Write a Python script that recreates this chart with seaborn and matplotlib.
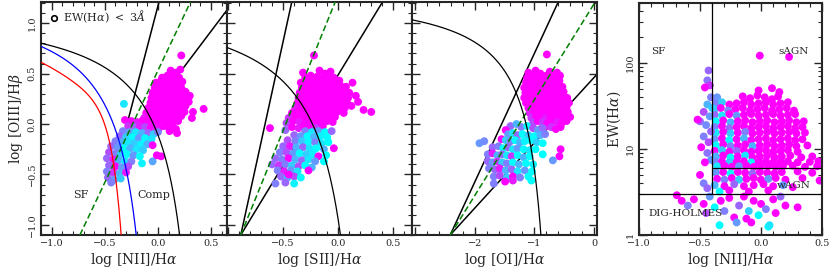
import numpy as np
import pandas as pd
import matplotlib
matplotlib.use("Agg")
import matplotlib.pyplot as plt
import seaborn as sns
from matplotlib.lines import Line2D
from matplotlib.ticker import MultipleLocator, LogLocator, NullFormatter

# ---------------- data ----------------
# colour value c: 0 = cyan ... 1 = magenta ("cool" colour map)

# [NII]/Ha vs [OIII]/Hb
nii_x = [
    0.12, 0.17, 0.21,
    0.04, 0.09, 0.15, 0.20,
    -0.02, 0.03, 0.08, 0.13, 0.18, 0.23,
    -0.03, 0.02, 0.07, 0.12, 0.17, 0.22,
    -0.05, 0.00, 0.05, 0.10, 0.15, 0.20, 0.26,
    -0.06, -0.01, 0.04, 0.09, 0.14, 0.19, 0.24,
    -0.07, -0.02, 0.03, 0.08, 0.13, 0.18, 0.23, 0.29,
    -0.09, -0.04, 0.01, 0.06, 0.11, 0.16, 0.21, 0.26,
    -0.11, -0.06, -0.01, 0.04, 0.09, 0.14, 0.19, 0.25,
    -0.13, -0.08, -0.03, 0.02, 0.07, 0.12, 0.17, 0.22,
    -0.16, -0.11, -0.06, -0.01, 0.04, 0.09, 0.14, 0.19,
    -0.14, -0.09, -0.04, 0.01, 0.06, 0.12, 0.17,
    0.22, 0.43, 0.32, 0.30, 0.11, 0.18, 0.03, 0.33,
    -0.32,
    -0.31, -0.25, -0.20, -0.15,
    -0.28, -0.22, -0.17, -0.12, -0.07, -0.02,
    -0.33, -0.27, -0.21, -0.15, -0.09, -0.04, 0.00,
    -0.36, -0.30, -0.24, -0.18, -0.12, -0.06,
    -0.40, -0.34, -0.28, -0.22, -0.16, -0.10, -0.05,
    -0.44, -0.38, -0.32, -0.26, -0.20, -0.14,
    -0.46, -0.40, -0.35, -0.29, -0.23, -0.17,
    -0.48, -0.42, -0.37, -0.31, -0.25, -0.15, -0.05,
    -0.46, -0.40, -0.34, -0.28,
    -0.48, -0.42, -0.36, -0.30,
    -0.47, -0.41, -0.35, -0.44,
    -0.01,
]
nii_y = [
    0.53, 0.51, 0.54,
    0.46, 0.48, 0.47, 0.46,
    0.41, 0.43, 0.42, 0.43, 0.41, 0.42,
    0.36, 0.38, 0.37, 0.36, 0.38, 0.36,
    0.31, 0.33, 0.32, 0.31, 0.33, 0.31, 0.32,
    0.26, 0.28, 0.27, 0.26, 0.28, 0.27, 0.26,
    0.21, 0.23, 0.22, 0.21, 0.23, 0.22, 0.21, 0.22,
    0.16, 0.18, 0.17, 0.16, 0.18, 0.17, 0.16, 0.18,
    0.11, 0.13, 0.12, 0.11, 0.13, 0.12, 0.11, 0.12,
    0.06, 0.08, 0.07, 0.06, 0.08, 0.07, 0.06, 0.08,
    0.01, 0.03, 0.02, 0.01, 0.03, 0.02, 0.01, 0.03,
    -0.04, -0.02, -0.03, -0.04, -0.02, -0.03, -0.05,
    0.68, 0.15, 0.06, 0.28, -0.07, -0.09, -0.32, 0.12,
    0.20,
    0.04, 0.03, 0.02, 0.03,
    -0.02, -0.03, -0.02, -0.03, -0.04, -0.05,
    -0.07, -0.08, -0.08, -0.09, -0.09, -0.10, -0.08,
    -0.12, -0.13, -0.13, -0.14, -0.14, -0.15,
    -0.17, -0.18, -0.18, -0.19, -0.20, -0.20, -0.21,
    -0.22, -0.23, -0.24, -0.24, -0.25, -0.26,
    -0.28, -0.29, -0.30, -0.30, -0.31, -0.32,
    -0.34, -0.35, -0.36, -0.37, -0.37, -0.39, -0.37,
    -0.41, -0.42, -0.43, -0.42,
    -0.47, -0.48, -0.49, -0.48,
    -0.53, -0.55, -0.54, -0.58,
    -0.31,
]
nii_c = [
    1, 1, 1,
    1, 1, 1, 1,
    1, 1, 1, 1, 1, 1,
    1, 1, 1, 1, 1, 1,
    1, 1, 1, 1, 1, 1, 1,
    1, 1, 1, 1, 1, 1, 1,
    1, 1, 1, 1, 1, 1, 1, 1,
    1, 1, 1, 1, 1, 1, 1, 1,
    1, 1, 1, 1, 1, 1, 1, 1,
    0.9, 1, 1, 1, 1, 1, 1, 1,
    0.85, 1, 1, 1, 1, 1, 1, 1,
    0.9, 1, 0.9, 1, 1, 1, 1,
    1, 1, 1, 1, 1, 1, 1, 1,
    0.1,
    1, 1, 0.9, 1,
    0.8, 0.6, 0.9, 0.7, 1, 0.9,
    0.5, 0.4, 0.1, 0.3, 0.6, 0.2, 0.5,
    0.6, 0.2, 0.0, 0.4, 0.0, 0.1,
    0.5, 0.3, 0.1, 0.2, 0.05, 0.3, 1,
    0.6, 0.4, 0.0, 0.3, 0.1, 0.2,
    0.7, 0.5, 0.2, 0.0, 0.4, 0.0,
    0.6, 0.9, 0.3, 0.1, 0.5, 0.05, 0.35,
    0.6, 1, 0.4, 0.7,
    0.5, 0.8, 0.3, 0.9,
    0.6, 0.4, 0.2, 0.5,
    1,
]

# [SII]/Ha vs [OIII]/Hb
sii_x = [
    -0.32, -0.17, -0.12, -0.07,
    -0.30, -0.25, -0.19, -0.14, -0.09, -0.04,
    -0.34, -0.29, -0.24, -0.19, -0.14, -0.09, -0.04, 0.01, 0.13,
    -0.33, -0.28, -0.23, -0.18, -0.13, -0.08, -0.03, 0.02, 0.07,
    -0.35, -0.30, -0.25, -0.20, -0.15, -0.10, -0.05, 0.00, 0.05, 0.10,
    -0.36, -0.31, -0.26, -0.21, -0.16, -0.11, -0.06, -0.01, 0.04, 0.09, 0.16,
    -0.37, -0.32, -0.27, -0.22, -0.17, -0.12, -0.07, -0.02, 0.03, 0.08, 0.18,
    -0.39, -0.34, -0.29, -0.24, -0.19, -0.14, -0.09, -0.04, 0.01, 0.06, 0.12,
    -0.42, -0.36, -0.31, -0.26, -0.21, -0.16, -0.11, -0.06, -0.01, 0.05, 0.23, 0.30,
    -0.45, -0.39, -0.33, -0.28, -0.23, -0.18, -0.13, -0.08, -0.03,
    -0.47, -0.41, -0.35, -0.30, -0.25, -0.20, -0.15, -0.10, -0.05,
    -0.62, -0.48, -0.42, -0.36, -0.31, -0.26, -0.20, -0.14,
    -0.22,
    -0.30, -0.24, -0.18, -0.12, -0.06,
    -0.40, -0.34, -0.28, -0.22, -0.16, -0.10,
    -0.46, -0.39, -0.33, -0.27, -0.21, -0.15, -0.09, -0.04,
    -0.50, -0.44, -0.38, -0.32, -0.26, -0.20, -0.13,
    -0.53, -0.47, -0.41, -0.35, -0.29, -0.23, -0.18, -0.11,
    -0.57, -0.51, -0.45, -0.39, -0.33, -0.27, -0.21, -0.13,
    -0.60, -0.54, -0.48, -0.42, -0.36, -0.30, -0.24,
    -0.55, -0.49, -0.43, -0.37, -0.27,
    -0.52, -0.46, -0.40, -0.34, -0.45,
    -0.57, -0.48, -0.40,
]
sii_y = [
    0.51, 0.53, 0.50, 0.52,
    0.46, 0.48, 0.47, 0.46, 0.48, 0.46,
    0.41, 0.43, 0.42, 0.41, 0.43, 0.42, 0.41, 0.43, 0.41,
    0.36, 0.38, 0.37, 0.36, 0.38, 0.37, 0.36, 0.38, 0.37,
    0.31, 0.33, 0.32, 0.31, 0.33, 0.32, 0.31, 0.33, 0.32, 0.31,
    0.26, 0.28, 0.27, 0.26, 0.28, 0.27, 0.26, 0.28, 0.27, 0.26, 0.28,
    0.21, 0.23, 0.22, 0.21, 0.23, 0.22, 0.21, 0.23, 0.22, 0.21, 0.22,
    0.16, 0.18, 0.17, 0.16, 0.18, 0.17, 0.16, 0.18, 0.17, 0.16, 0.18,
    0.11, 0.13, 0.12, 0.11, 0.13, 0.12, 0.11, 0.13, 0.12, 0.11, 0.14, 0.12,
    0.06, 0.08, 0.07, 0.06, 0.08, 0.07, 0.06, 0.08, 0.07,
    0.01, 0.03, 0.02, 0.01, 0.03, 0.02, 0.01, 0.03, 0.02,
    -0.04, -0.06, -0.03, -0.04, -0.02, -0.03, -0.04, -0.02,
    0.68,
    -0.07, -0.08, -0.07, -0.08, -0.07,
    -0.11, -0.12, -0.12, -0.13, -0.12, -0.13,
    -0.16, -0.17, -0.17, -0.18, -0.18, -0.19, -0.18, -0.24,
    -0.22, -0.22, -0.23, -0.23, -0.24, -0.24, -0.25,
    -0.28, -0.28, -0.29, -0.29, -0.30, -0.30, -0.32, -0.31,
    -0.34, -0.35, -0.34, -0.35, -0.36, -0.35, -0.37, -0.37,
    -0.40, -0.41, -0.40, -0.41, -0.42, -0.41, -0.43,
    -0.46, -0.47, -0.46, -0.47, -0.46,
    -0.52, -0.53, -0.52, -0.53, -0.50,
    -0.59, -0.58, -0.59,
]
sii_c = [
    1, 1, 1, 1,
    1, 1, 1, 1, 1, 1,
    1, 1, 1, 1, 1, 1, 1, 1, 1,
    1, 1, 1, 1, 1, 1, 1, 1, 1,
    1, 1, 1, 1, 1, 1, 1, 1, 1, 1,
    1, 1, 1, 1, 1, 1, 1, 1, 1, 1, 1,
    1, 1, 1, 1, 1, 1, 1, 1, 1, 1, 1,
    0.9, 1, 1, 1, 1, 1, 1, 1, 1, 1, 1,
    1, 1, 1, 1, 1, 1, 1, 1, 1, 1, 1, 1,
    0.8, 1, 1, 1, 1, 1, 1, 1, 1,
    0.7, 1, 0.9, 1, 1, 1, 1, 1, 1,
    1, 0.6, 1, 0.9, 1, 1, 0.8, 1,
    1,
    0.5, 0.1, 0.4, 0.0, 0.6,
    0.6, 0.4, 0.0, 0.3, 0.05, 0.0,
    0.7, 0.5, 0.2, 0.0, 0.5, 0.1, 0.0, 1,
    0.6, 0.9, 0.3, 0.6, 0.1, 0.0, 0.3,
    0.5, 0.7, 0.4, 0.0, 0.2, 0.05, 1, 0.0,
    0.6, 0.5, 1, 0.3, 0.6, 0.1, 0.4, 0.0,
    0.6, 0.8, 0.5, 0.2, 0.7, 0.0, 0.3,
    0.5, 0.9, 0.4, 0.1, 1,
    0.6, 0.3, 0.7, 0.0, 1,
    0.5, 0.6, 0.05,
]

# [OI]/Ha vs [OIII]/Hb
oi_x = [
    -1.10, -0.98, -0.90, -0.74, -0.62,
    -1.12, -1.04, -0.96, -0.88, -0.80, -0.72, -0.64, -0.57,
    -1.14, -1.06, -0.98, -0.90, -0.82, -0.74, -0.66, -0.58,
    -1.17, -1.09, -1.01, -0.93, -0.85, -0.77, -0.69, -0.61, -0.53,
    -1.15, -1.07, -0.99, -0.91, -0.83, -0.75, -0.67, -0.59, -0.51,
    -1.17, -1.09, -1.01, -0.93, -0.85, -0.77, -0.69, -0.61, -0.53, -0.45,
    -1.14, -1.06, -0.98, -0.90, -0.82, -0.74, -0.66, -0.58, -0.50, -0.42,
    -1.10, -1.02, -0.94, -0.86, -0.78, -0.70, -0.62, -0.54, -0.46,
    -1.08, -1.00, -0.92, -0.84, -0.76, -0.68, -0.60, -0.52, -0.44,
    -1.05, -0.97, -0.89, -0.81, -0.73, -0.65, -0.57, -0.49, -0.40,
    -1.02, -0.94, -0.86, -0.78, -0.70, -0.62, -0.54, -0.46,
    -0.88, -0.80, -0.72, -0.64, -0.56,
    -0.79, -0.56, -0.58,
    -1.40, -1.30, -1.22, -1.12, -1.02, -0.94, -0.86, -1.48,
    -1.44, -1.36, -1.28, -1.20, -1.10, -1.00, -0.90, -0.82,
    -1.92, -1.84, -1.55, -1.48, -1.40, -1.32, -1.24, -1.16, -1.06, -0.96, -0.86,
    -1.70, -1.60, -1.52, -1.44, -1.36, -1.28, -1.18, -1.08, -0.98,
    -1.78, -1.70, -1.62, -1.54, -1.46, -1.38, -1.28, -1.18, -1.08, -0.69, -0.86,
    -1.78, -1.70, -1.62, -1.54, -1.46, -1.36, -1.26, -1.14, -1.02,
    -1.76, -1.66, -1.58, -1.48, -1.38, -1.28, -1.16, -1.04,
    -1.68, -1.58, -1.46, -1.36, -1.24, -1.10,
    -1.68, -1.49, -1.36, -1.05,
]
oi_y = [
    0.51, 0.53, 0.50, 0.52, 0.51,
    0.46, 0.48, 0.47, 0.46, 0.48, 0.47, 0.46, 0.48,
    0.41, 0.43, 0.42, 0.41, 0.43, 0.42, 0.41, 0.43,
    0.36, 0.38, 0.37, 0.36, 0.38, 0.37, 0.36, 0.38, 0.37,
    0.31, 0.33, 0.32, 0.31, 0.33, 0.32, 0.31, 0.33, 0.32,
    0.26, 0.28, 0.27, 0.26, 0.28, 0.27, 0.26, 0.28, 0.27, 0.26,
    0.21, 0.23, 0.22, 0.21, 0.23, 0.22, 0.21, 0.23, 0.22, 0.21,
    0.16, 0.18, 0.17, 0.16, 0.18, 0.17, 0.16, 0.18, 0.17,
    0.11, 0.13, 0.12, 0.11, 0.13, 0.12, 0.11, 0.13, 0.12,
    0.06, 0.08, 0.07, 0.06, 0.08, 0.07, 0.06, 0.08, 0.07,
    0.01, 0.03, 0.02, 0.01, 0.03, 0.02, 0.01, 0.03,
    -0.04, -0.02, -0.03, -0.05, -0.03,
    0.69, -0.25, -0.32,
    -0.02, 0.00, -0.03, -0.02, -0.04, -0.06, -0.04, -0.06,
    -0.10, -0.09, -0.11, -0.10, -0.11, -0.12, -0.11, -0.10,
    -0.19, -0.17, -0.15, -0.16, -0.17, -0.16, -0.18, -0.17, -0.16, -0.18, -0.19,
    -0.23, -0.22, -0.24, -0.23, -0.25, -0.24, -0.25, -0.26, -0.25,
    -0.30, -0.29, -0.31, -0.30, -0.31, -0.32, -0.31, -0.33, -0.32, -0.36, -0.30,
    -0.37, -0.38, -0.37, -0.38, -0.39, -0.38, -0.40, -0.39, -0.40,
    -0.44, -0.45, -0.44, -0.46, -0.45, -0.47, -0.46, -0.47,
    -0.52, -0.51, -0.53, -0.52, -0.53, -0.52,
    -0.59, -0.57, -0.56, -0.56,
]
oi_c = [
    1, 1, 1, 1, 1,
    1, 1, 1, 1, 1, 1, 1, 1,
    1, 1, 1, 1, 1, 1, 1, 1,
    1, 1, 1, 1, 1, 1, 1, 1, 1,
    1, 1, 1, 1, 1, 1, 1, 1, 1,
    1, 1, 1, 1, 1, 1, 1, 1, 1, 1,
    1, 1, 1, 1, 1, 1, 1, 1, 1, 1,
    1, 1, 1, 1, 1, 1, 1, 1, 1,
    0.9, 1, 1, 1, 1, 1, 1, 1, 1,
    0.8, 1, 1, 0.9, 1, 1, 1, 1, 1,
    0.7, 1, 0.8, 1, 1, 0.9, 1, 1,
    0.6, 1, 0.8, 1, 1,
    1, 1, 1,
    0.6, 0.3, 0.5, 0.0, 0.7, 0.4, 0.6, 1,
    0.4, 0.1, 0.6, 0.0, 0.2, 0.0, 0.3, 0.5,
    0.4, 0.45, 1, 0.2, 0.5, 0.0, 0.3, 0.05, 0.0, 0.2, 0.0,
    0.6, 0.5, 0.0, 0.6, 0.1, 0.4, 0.0, 0.1, 0.0,
    0.5, 0.9, 0.3, 0.6, 0.1, 0.8, 0.0, 0.3, 0.0, 0.4, 0.0,
    0.6, 0.4, 0.8, 0.2, 0.5, 0.0, 0.3, 0.0, 0.05,
    0.5, 0.6, 0.9, 0.3, 0.6, 0.1, 0.4, 0.0,
    0.5, 0.7, 0.2, 1, 0.5, 0.0,
    0.5, 1, 0.9, 0.0,
]

# WHAN: [NII]/Ha vs EW(Ha)
whan_x = [
    -0.02, 0.09, 0.15, -0.01, 0.23,
    -0.36, -0.15, -0.09, -0.03, 0.03, 0.09, 0.14,
    -0.37, -0.32, -0.26, -0.20, -0.14, -0.08, -0.02, 0.04, 0.10, 0.16, 0.22,
    -0.38, -0.33, -0.27, -0.21, -0.15, -0.09, -0.03, 0.03, 0.09, 0.15, 0.21, 0.27,
    -0.38, -0.32, -0.26, -0.20, -0.14, -0.08, -0.02, 0.04, 0.10, 0.16, 0.22, 0.28,
    -0.37, -0.31, -0.25, -0.19, -0.13, -0.07, -0.01, 0.05, 0.11, 0.17, 0.23, 0.29, 0.35,
    -0.38, -0.32, -0.26, -0.20, -0.14, -0.08, -0.02, 0.04, 0.10, 0.16, 0.22, 0.28, 0.34,
    -0.37, -0.31, -0.25, -0.19, -0.13, -0.07, -0.01, 0.05, 0.11, 0.17, 0.23, 0.29, 0.36,
    -0.38, -0.32, -0.26, -0.20, -0.14, -0.08, -0.02, 0.04, 0.10, 0.16, 0.22, 0.28, 0.34,
    -0.37, -0.31, -0.25, -0.19, -0.13, -0.07, -0.01, 0.05, 0.11, 0.17, 0.23, 0.29, 0.38,
    -0.38, -0.32, -0.26, -0.20, -0.14, -0.08, -0.02, 0.04, 0.10, 0.16, 0.22, 0.30,
    -0.37, -0.31, -0.25, -0.19, -0.13, -0.07, -0.01, 0.05, 0.11, 0.17, 0.24, 0.33, 0.42,
    -0.38, -0.32, -0.26, -0.20, -0.14, -0.08, -0.02, 0.04, 0.10, 0.16, 0.22, 0.30, 0.40, 0.47,
    -0.36, -0.30, -0.24, -0.18, -0.12, -0.06, 0.00, 0.06, 0.12, 0.18, 0.26, 0.36, 0.46,
    -0.43, -0.44, -0.42, -0.46, -0.41, -0.44, -0.47, -0.42, -0.50, -0.45,
    -0.41, -0.47, -0.43, -0.49, -0.44, -0.41, -0.46, -0.52, -0.40,
    -0.37, -0.31, -0.25, -0.19, -0.13, -0.07, -0.01, 0.05, 0.11, 0.17, 0.30, 0.42,
    -0.36, -0.30, -0.24, -0.18, -0.12, -0.06, 0.00, 0.06, 0.12, 0.20, 0.34, 0.48,
    -0.38, -0.30, -0.22, -0.14, -0.06, 0.02, 0.10, 0.18, 0.26,
    -0.26, -0.10, 0.06, -0.34,
    -0.69, -0.65, -0.60, -0.55, -0.47, -0.42, -0.38, -0.33, -0.30, -0.26,
    -0.22, -0.18, -0.14, -0.10, -0.06, -0.02, 0.00, 0.04, 0.06, 0.07,
    0.10, 0.12, -0.34, -0.45, -0.12, 0.20, 0.30, -0.20, -0.08, 0.16,
    -0.47, -0.44, -0.50,
]
whan_ew = [
    48, 51, 46, 122, 118,
    40, 41, 39, 42, 40, 38, 41,
    34, 35, 33, 34, 35, 33, 34, 35, 33, 34, 35,
    29, 30, 28, 29, 30, 28, 29, 30, 28, 29, 30, 28,
    25, 24.5, 25.5, 24.5, 25, 25.5, 24.5, 25, 25.5, 24.5, 25, 25.5,
    21, 21.5, 20.5, 21, 21.5, 20.5, 21, 21.5, 20.5, 21, 21.5, 20.5, 21,
    18, 18.5, 17.5, 18, 18.5, 17.5, 18, 18.5, 17.5, 18, 18.5, 17.5, 18,
    15.5, 15.8, 15.2, 15.5, 15.8, 15.2, 15.5, 15.8, 15.2, 15.5, 15.8, 15.2, 15.5,
    13, 13.3, 12.7, 13, 13.3, 12.7, 13, 13.3, 12.7, 13, 13.3, 12.7, 13,
    11, 11.3, 10.8, 11, 11.3, 10.8, 11, 11.3, 10.8, 11, 11.3, 10.8, 11,
    9.5, 9.7, 9.3, 9.5, 9.7, 9.3, 9.5, 9.7, 9.3, 9.5, 9.7, 9.3,
    8.2, 8.4, 8.0, 8.2, 8.4, 8.0, 8.2, 8.4, 8.0, 8.2, 8.4, 8.0, 8.2,
    7.1, 7.2, 7.0, 7.1, 7.2, 7.0, 7.1, 7.2, 7.0, 7.1, 7.2, 7.0, 7.1, 7.2,
    6.3, 6.4, 6.2, 6.3, 6.4, 6.2, 6.3, 6.4, 6.2, 6.3, 6.4, 6.2, 6.3,
    82, 63, 55, 52, 40, 33, 27, 24, 21, 19,
    16, 14, 12, 10.5, 9, 7.5, 7, 22, 30,
    5.3, 5.4, 5.2, 5.4, 5.3, 5.2, 5.4, 5.3, 5.2, 5.4, 5.5, 5.3,
    4.5, 4.4, 4.6, 4.4, 4.5, 4.6, 4.4, 4.5, 4.6, 4.4, 4.6, 4.3,
    3.8, 3.7, 3.9, 3.7, 3.8, 3.9, 3.7, 3.8, 3.6,
    3.3, 3.2, 3.3, 3.2,
    2.9, 2.5, 2.2, 2.6, 2.3, 2.8, 2.1, 2.5, 1.9, 2.7,
    1.6, 2.2, 2.8, 1.9, 2.5, 1.7, 2.3, 2.0, 1.25, 1.3,
    2.6, 1.8, 1.3, 1.8, 1.55, 2.2, 2.1, 1.4, 1.4, 2.8,
    4.0, 3.5, 5.0,
]
whan_c = [
    1, 1, 1, 1, 1,
    0.4, 1, 1, 1, 1, 1, 1,
    0.5, 0.2, 1, 1, 1, 1, 1, 1, 1, 1, 1,
    0.2, 1, 0.5, 1, 1, 1, 1, 1, 1, 1, 1, 1,
    0.6, 0.1, 1, 0.4, 1, 1, 1, 1, 1, 1, 1, 1,
    0.0, 1, 0.3, 1, 1, 1, 1, 1, 1, 1, 1, 1, 1,
    0.5, 1, 0.6, 1, 1, 1, 1, 1, 1, 1, 1, 1, 1,
    0.1, 1, 0.2, 1, 0.5, 1, 1, 1, 1, 1, 1, 1, 1,
    0.4, 1, 0.0, 1, 0.3, 1, 1, 1, 1, 1, 1, 1, 1,
    0.0, 1, 0.5, 1, 1, 0.3, 1, 1, 1, 1, 1, 1, 1,
    1, 0.2, 1, 0.6, 1, 1, 1, 1, 1, 1, 1, 1,
    0.3, 1, 0.0, 1, 0.1, 1, 1, 1, 1, 1, 1, 1, 1,
    0.5, 1, 0.2, 1, 1, 0.0, 1, 1, 1, 1, 1, 1, 1, 1,
    0.1, 1, 1, 0.4, 1, 1, 1, 1, 1, 1, 1, 1, 1,
    0.6, 0.55, 0.8, 1, 0.5, 0.3, 0.7, 0.4, 0.6, 0.45,
    0.6, 0.5, 0.7, 1, 0.55, 0.4, 1, 1, 0.2,
    0.4, 1, 0.0, 1, 1, 0.6, 1, 1, 1, 1, 1, 1,
    1, 0.5, 1, 0.2, 1, 1, 1, 0.4, 1, 1, 1, 1,
    0.3, 1, 0.6, 1, 1, 1, 1, 0.4, 1,
    1, 1, 1, 0.0,
    1, 1, 0.5, 1, 1, 0.4, 0.0, 1, 0.5, 1,
    1, 0.6, 1, 0.2, 1, 0.0, 1, 0.5, 0.0, 0.1,
    1, 1, 0.0, 0.7, 1, 1, 1, 0.4, 1, 0.6,
    0.5, 0.6, 1,
]

# straight demarcation lines: common vertex and far end points
nii_vertex = (-0.36, -0.28)
nii_ends = [(0.01, 1.21), (0.65, 1.13)]
nii_dashed = [(-0.734, -1.10), (0.306, 1.21)]
sii_vertex = (-0.885, -1.10)
sii_ends = [(-0.422, 1.21), (0.402, 1.21)]
sii_dashed = [(-0.885, -1.10), (-0.028, 1.21)]
oi_vertex = (-2.41, -1.10)
oi_ends = [(-0.60, 1.21), (0.05, 0.494)]
oi_dashed = [(-2.41, -1.10), (0.02, 1.21)]

# WHAN boundaries
whan_sf_x = -0.4
whan_ew_strong = 6
whan_ew_weak = 3


# ---------------- plotting ----------------
sns.set_style("ticks")
plt.rcParams["font.family"] = ["DejaVu Serif"]
plt.rcParams["mathtext.fontset"] = "dejavuserif"

fig = plt.figure(figsize=(8.3, 2.77), dpi=100)
bottom, height = 0.1516, 0.8412
ax1 = fig.add_axes([0.0494, bottom, 0.2241, height])
ax2 = fig.add_axes([0.2735, bottom, 0.2229, height])
ax3 = fig.add_axes([0.4964, bottom, 0.2229, height])
ax4 = fig.add_axes([0.7699, bottom, 0.2205, 0.8376])

DOT = 32


def style_axes(ax):
    ax.tick_params(which="both", direction="in", top=True, right=True,
                   labelsize=7, pad=3)
    ax.tick_params(which="major", length=6, width=1)
    ax.tick_params(which="minor", length=3, width=0.8)
    for sp in ax.spines.values():
        sp.set_linewidth(1.5)
    ax.tick_params(axis="y", labelrotation=90)
    for lab in ax.get_yticklabels():
        lab.set_va("center")


def draw_points(ax, x, y, c):
    df = pd.DataFrame({"x": x, "y": y, "c": c})
    sns.scatterplot(data=df, x="x", y="y", hue="c", palette="cool",
                    hue_norm=(0, 1), s=DOT, linewidth=0, legend=False,
                    ax=ax, zorder=2)


def draw_fan(ax, vertex, ends, dashed):
    for ex, ey in ends:
        ax.plot([vertex[0], ex], [vertex[1], ey], color="black", lw=1.1, zorder=1)
    ax.plot([dashed[0][0], dashed[1][0]], [dashed[0][1], dashed[1][1]],
            color="green", lw=1.1, ls=(0, (4, 2)), zorder=3)


ylim = (-1.10, 1.21)

# panel 1: [NII]
draw_fan(ax1, nii_vertex, nii_ends, nii_dashed)
draw_points(ax1, nii_x, nii_y, nii_c)
xs = np.linspace(-1.2, 0.3, 300)
ax1.plot(xs, 0.61 / (xs - 0.47) + 1.19, color="black", lw=0.9, zorder=3)
xs = np.linspace(-1.2, -0.1, 300)
ax1.plot(xs, 0.61 / (xs - 0.05) + 1.3, color="blue", lw=0.9, zorder=3)
xs = np.linspace(-1.2, -0.3, 300)
ax1.plot(xs, (-30.787 + 1.1358 * xs + 0.27297 * xs ** 2) * np.tanh(5.7409 * xs) - 31.093,
         color="red", lw=0.9, zorder=3)
ax1.set_xlim(-1.1, 0.65)
ax1.set_ylim(*ylim)
ax1.xaxis.set_major_locator(MultipleLocator(0.5))
ax1.xaxis.set_minor_locator(MultipleLocator(0.1))
ax1.yaxis.set_major_locator(MultipleLocator(0.5))
ax1.yaxis.set_minor_locator(MultipleLocator(0.1))
ax1.set_xlabel(r"log [NII]/H$\alpha$", fontsize=10, labelpad=2)
ax1.set_ylabel(r"log [OIII]/H$\beta$", fontsize=10, labelpad=2)
ax1.text(-0.73, -0.70, "SF", fontsize=8, ha="center", va="center")
ax1.text(-0.04, -0.70, "Comp", fontsize=8, ha="center", va="center")
handle = Line2D([], [], marker="o", ls="", mfc="none", mec="black", ms=4, mew=1.2)
ax1.legend([handle], [r"EW(H$\alpha$) $<$ 3$\AA$"], loc="upper left", frameon=False,
           fontsize=8, handletextpad=0.2, borderaxespad=0.2, handlelength=1.2)
style_axes(ax1)

# panel 2: [SII]
draw_fan(ax2, sii_vertex, sii_ends, sii_dashed)
draw_points(ax2, sii_x, sii_y, sii_c)
xs = np.linspace(-1.2, 0.2, 300)
ax2.plot(xs, 0.72 / (xs - 0.32) + 1.30, color="black", lw=0.9, zorder=3)
ax2.set_xlim(-1.01, 0.67)
ax2.set_ylim(*ylim)
ax2.set_xticks([-1.0, -0.5, 0.0, 0.5], labels=["", "\u22120.5", "0.0", "0.5"])
ax2.xaxis.set_minor_locator(MultipleLocator(0.1))
ax2.yaxis.set_major_locator(MultipleLocator(0.5))
ax2.yaxis.set_minor_locator(MultipleLocator(0.1))
ax2.set_xlabel(r"log [SII]/H$\alpha$", fontsize=10, labelpad=2)
ax2.set_ylabel("")
style_axes(ax2)
ax2.tick_params(labelleft=False)

# panel 3: [OI]
draw_fan(ax3, oi_vertex, oi_ends, oi_dashed)
draw_points(ax3, oi_x, oi_y, oi_c)
xs = np.linspace(-3.2, -0.8, 300)
ax3.plot(xs, 0.73 / (xs + 0.59) + 1.33, color="black", lw=0.9, zorder=3)
ax3.set_xlim(-3.05, 0.05)
ax3.set_ylim(*ylim)
ax3.set_xticks([-3, -2, -1, 0], labels=["", "\u22122", "\u22121", "0"])
ax3.xaxis.set_minor_locator(MultipleLocator(0.2))
ax3.yaxis.set_major_locator(MultipleLocator(0.5))
ax3.yaxis.set_minor_locator(MultipleLocator(0.1))
ax3.set_xlabel(r"log [OI]/H$\alpha$", fontsize=10, labelpad=2)
ax3.set_ylabel("")
style_axes(ax3)
ax3.tick_params(labelleft=False)

# panel 4: WHAN
draw_points(ax4, whan_x, whan_ew, whan_c)
ax4.set_yscale("log")
ax4.set_xlim(-1.0, 0.5)
ax4.set_ylim(1, 500)
ax4.axvline(whan_sf_x, ymin=np.log10(whan_ew_weak) / np.log10(500), ymax=1,
            color="black", lw=0.9, zorder=3)
ax4.axhline(whan_ew_weak, color="black", lw=0.9, zorder=3)
ax4.axhline(whan_ew_strong, xmin=(whan_sf_x + 1.0) / 1.5, xmax=1,
            color="black", lw=0.9, zorder=3)
ax4.xaxis.set_major_locator(MultipleLocator(0.5))
ax4.xaxis.set_minor_locator(MultipleLocator(0.1))
ax4.set_yticks([1, 10, 100], labels=["1", "10", "100"])
ax4.yaxis.set_minor_locator(LogLocator(base=10, subs=np.arange(2, 10)))
ax4.yaxis.set_minor_formatter(NullFormatter())
ax4.set_xlabel(r"log [NII]/H$\alpha$", fontsize=10, labelpad=2)
ax4.set_ylabel(r"EW(H$\alpha$)", fontsize=10, labelpad=2)
ax4.text(-0.84, 135, "SF", fontsize=7.5, ha="center", va="center")
ax4.text(0.265, 135, "sAGN", fontsize=7.5, ha="center", va="center")
ax4.text(0.265, 3.8, "wAGN", fontsize=7.5, ha="center", va="center", zorder=4)
ax4.text(-0.62, 1.8, "DIG-HOLMES", fontsize=7.5, ha="center", va="center", zorder=4)
style_axes(ax4)

fig.savefig("out.png", dpi=100)
